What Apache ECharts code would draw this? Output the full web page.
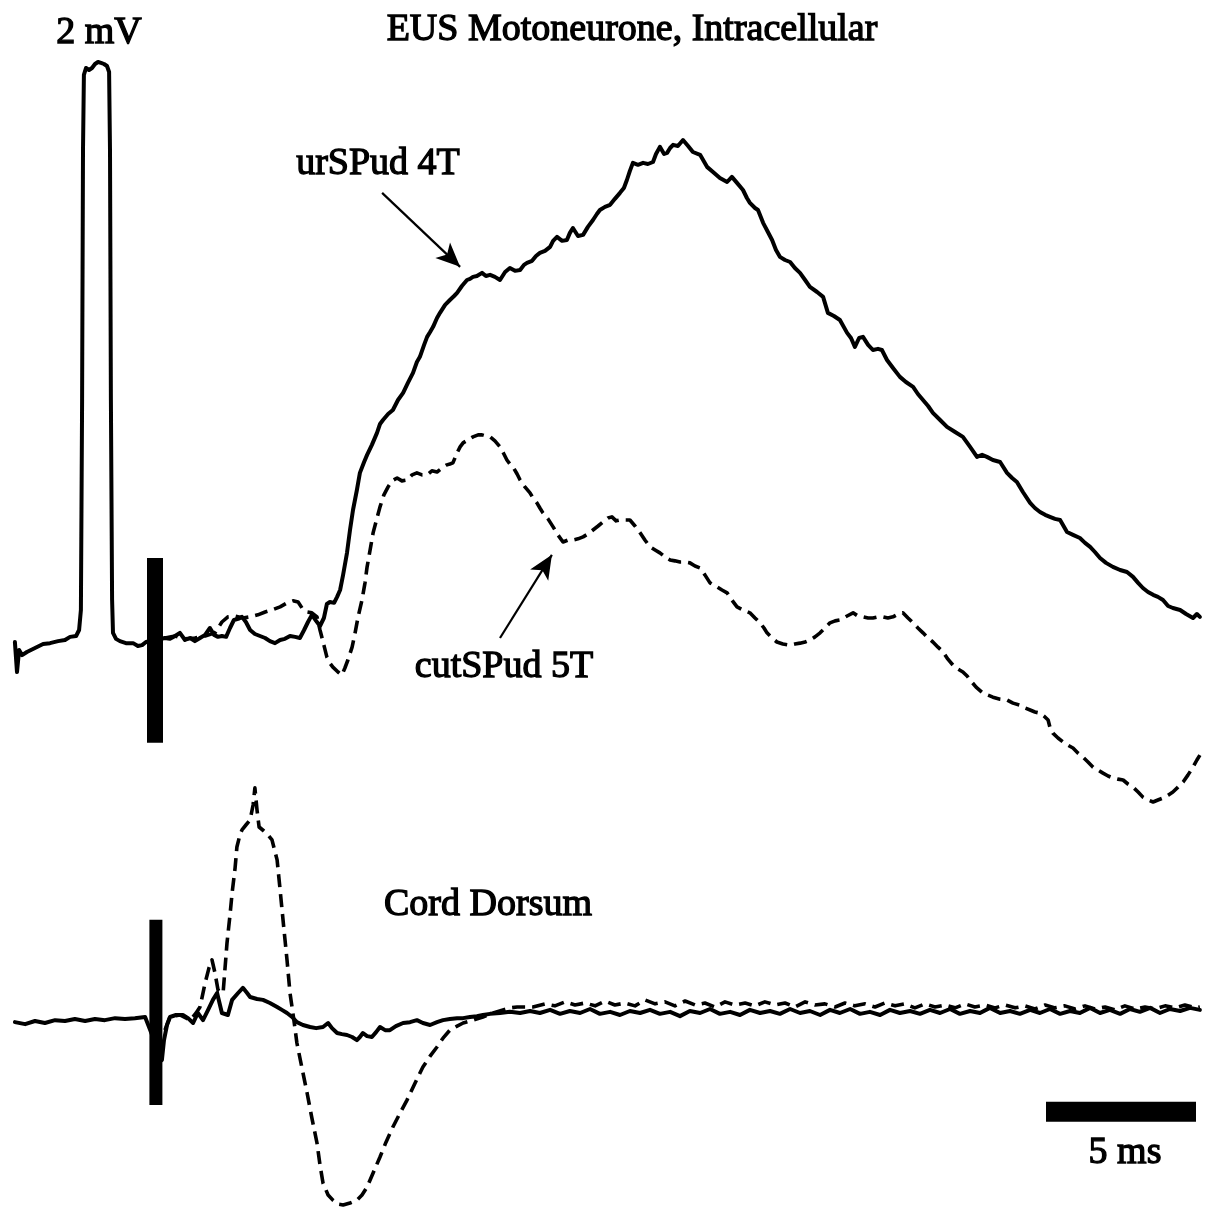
<!DOCTYPE html>
<html><head><meta charset="utf-8">
<script src="https://cdn.jsdelivr.net/npm/echarts@6/dist/echarts.min.js"></script>
<style>html,body{margin:0;padding:0;background:#fff}#c{width:1206px;height:1212px}</style>
</head><body><div id="c"></div>
<script>
// time in ms (0 = stimulus), potential in mV
const urSPudIntra = [[-4.67,-0.007],[-4.6,-0.112],[-4.53,-0.035],[-4.43,-0.053],[-4.27,-0.042],[-4.0,-0.028],[-3.73,-0.014],[-3.5,-0.011],[-3.23,-0.004],[-3.0,0],[-2.83,0.011],[-2.63,0.014],[-2.53,0.035],[-2.47,0.105],[-2.43,0.84],[-2.4,1.715],[-2.37,1.978],[-2.3,2.002],[-2.2,1.995],[-2.1,2.002],[-2.0,2.016],[-1.9,2.023],[-1.8,2.02],[-1.7,2.016],[-1.6,2.009],[-1.53,1.988],[-1.5,1.715],[-1.47,0.84],[-1.43,0.14],[-1.4,0.025],[-1.3,0.004],[-1.17,-0.004],[-0.97,-0.011],[-0.73,-0.011],[-0.57,-0.021],[-0.43,-0.018],[-0.3,-0.007],
[0.33,0.007],[0.5,0.004],[0.67,0.014],[0.83,0.025],[1.0,0],[1.17,0.007],[1.33,-0.004],[1.5,0.007],[1.67,0.018],[1.83,0.042],[1.97,0.018],[2.1,0.011],[2.23,0.014],[2.37,0.011],[2.5,0.042],[2.63,0.07],[2.77,0.074],[2.9,0.081],[3.03,0.063],[3.17,0.035],[3.33,0.021],[3.5,0.014],[3.67,0.007],[3.83,-0.004],[4.0,-0.011],[4.17,0],[4.33,0.004],[4.5,0.014],[4.67,0.011],[4.83,0.007],[4.97,0.035],[5.1,0.063],[5.23,0.088],[5.37,0.067],[5.5,0.049],[5.63,0.077],[5.73,0.126],[5.83,0.133],[5.97,0.13],[6.07,0.151],[6.17,0.175],[6.27,0.228],[6.4,0.305],[6.5,0.385],[6.6,0.455],[6.73,0.525],[6.83,0.585],[6.97,0.623],[7.07,0.648],[7.23,0.683],[7.4,0.725],[7.5,0.756],[7.6,0.77],[7.77,0.791],[7.93,0.805],[8.1,0.84],[8.27,0.865],[8.43,0.9],[8.6,0.935],[8.73,0.973],[8.83,0.991],[8.97,1.033],[9.07,1.061],[9.17,1.078],[9.27,1.096],[9.4,1.127],[9.5,1.145],[9.67,1.173],[9.83,1.19],[9.97,1.204],[10.07,1.215],[10.23,1.239],[10.4,1.26],[10.5,1.264],[10.6,1.271],[10.73,1.274],[10.9,1.285],[11.03,1.274],[11.17,1.278],[11.33,1.271],[11.5,1.26],[11.67,1.288],[11.83,1.302],[12.0,1.292],[12.17,1.295],[12.3,1.313],[12.4,1.32],[12.57,1.327],[12.7,1.344],[12.83,1.355],[13.0,1.362],[13.17,1.376],[13.27,1.397],[13.4,1.411],[13.57,1.397],[13.73,1.4],[13.83,1.425],[13.93,1.442],[14.1,1.414],[14.27,1.418],[14.43,1.446],[14.6,1.47],[14.73,1.491],[14.83,1.505],[15.0,1.516],[15.17,1.523],[15.33,1.544],[15.5,1.565],[15.63,1.582],[15.73,1.61],[15.83,1.642],[15.93,1.67],[16.1,1.663],[16.27,1.67],[16.43,1.666],[16.6,1.673],[16.7,1.701],[16.83,1.726],[16.97,1.701],[17.07,1.705],[17.17,1.722],[17.27,1.733],[17.43,1.729],[17.6,1.75],[17.77,1.729],[17.93,1.708],[18.17,1.698],[18.4,1.656],[18.6,1.638],[18.83,1.617],[19.07,1.603],[19.23,1.621],[19.4,1.6],[19.6,1.575],[19.73,1.547],[19.83,1.53],[20.0,1.512],[20.1,1.505],[20.27,1.46],[20.43,1.428],[20.57,1.4],[20.7,1.365],[20.83,1.341],[21.0,1.33],[21.17,1.323],[21.33,1.302],[21.5,1.285],[21.67,1.26],[21.83,1.236],[22.07,1.218],[22.27,1.201],[22.43,1.145],[22.63,1.134],[22.83,1.12],[23.07,1.075],[23.2,1.057],[23.33,1.026],[23.47,1.057],[23.6,1.061],[23.77,1.033],[23.93,1.015],[24.1,1.019],[24.23,1.015],[24.4,0.98],[24.6,0.952],[24.83,0.921],[25.03,0.903],[25.27,0.886],[25.43,0.861],[25.6,0.84],[25.77,0.819],[25.93,0.795],[26.17,0.77],[26.4,0.746],[26.67,0.728],[26.93,0.711],[27.17,0.676],[27.4,0.641],[27.57,0.648],[27.73,0.641],[27.93,0.63],[28.17,0.623],[28.4,0.585],[28.57,0.567],[28.73,0.553],[28.93,0.518],[29.17,0.48],[29.33,0.462],[29.5,0.448],[29.67,0.438],[29.83,0.431],[30.0,0.424],[30.17,0.42],[30.4,0.378],[30.6,0.368],[30.83,0.357],[31.0,0.34],[31.17,0.326],[31.33,0.308],[31.5,0.287],[31.7,0.27],[31.93,0.256],[32.17,0.245],[32.4,0.238],[32.6,0.221],[32.77,0.2],[32.93,0.182],[33.1,0.168],[33.27,0.158],[33.43,0.151],[33.6,0.14],[33.77,0.119],[33.93,0.112],[34.17,0.105],[34.37,0.091],[34.6,0.077],[34.73,0.091],[34.83,0.081]];

const cutSPudIntra = [[0.33,0.007],[0.67,0.014],[1.0,0.004],[1.33,0.007],[1.67,0.014],[2.0,0.025],[2.23,0.063],[2.43,0.081],[2.67,0.084],[2.93,0.077],[3.17,0.081],[3.43,0.088],[3.67,0.098],[3.9,0.105],[4.17,0.116],[4.4,0.13],[4.6,0.137],[4.77,0.133],[4.9,0.112],[5.07,0.098],[5.23,0.095],[5.4,0.081],[5.5,0.035],[5.63,-0.018],[5.73,-0.06],[5.83,-0.081],[5.93,-0.095],[6.1,-0.112],[6.23,-0.123],[6.33,-0.098],[6.43,-0.07],[6.57,-0.025],[6.67,0.025],[6.77,0.081],[6.9,0.14],[7.0,0.2],[7.07,0.256],[7.17,0.315],[7.27,0.375],[7.4,0.427],[7.5,0.466],[7.63,0.508],[7.77,0.536],[7.9,0.557],[8.07,0.567],[8.23,0.557],[8.4,0.56],[8.57,0.578],[8.73,0.585],[8.9,0.578],[9.07,0.578],[9.23,0.592],[9.4,0.588],[9.57,0.602],[9.73,0.613],[9.83,0.616],[9.93,0.62],[10.07,0.655],[10.17,0.676],[10.27,0.69],[10.43,0.7],[10.6,0.711],[10.77,0.718],[10.9,0.718],[11.03,0.714],[11.17,0.711],[11.33,0.697],[11.5,0.676],[11.63,0.651],[11.73,0.63],[11.83,0.616],[11.93,0.606],[12.07,0.581],[12.17,0.56],[12.33,0.536],[12.5,0.515],[12.6,0.497],[12.73,0.48],[12.83,0.462],[12.93,0.445],[13.1,0.424],[13.27,0.396],[13.43,0.368],[13.6,0.343],[13.77,0.35],[13.93,0.35],[14.1,0.354],[14.27,0.361],[14.43,0.371],[14.6,0.385],[14.77,0.399],[14.93,0.413],[15.1,0.427],[15.23,0.431],[15.37,0.417],[15.5,0.42],[15.67,0.42],[15.83,0.42],[16.0,0.399],[16.17,0.375],[16.33,0.35],[16.5,0.326],[16.67,0.315],[16.83,0.305],[17.0,0.291],[17.17,0.28],[17.33,0.277],[17.5,0.273],[17.67,0.273],[17.83,0.27],[18.0,0.259],[18.17,0.252],[18.33,0.228],[18.5,0.2],[18.73,0.186],[18.9,0.175],[19.07,0.165],[19.23,0.14],[19.4,0.116],[19.6,0.105],[19.83,0.095],[20.0,0.077],[20.17,0.06],[20.3,0.042],[20.4,0.025],[20.57,0.007],[20.73,-0.007],[20.93,-0.014],[21.17,-0.018],[21.33,-0.014],[21.5,-0.011],[21.67,-0.007],[21.83,0],[22.0,0.011],[22.17,0.025],[22.33,0.042],[22.5,0.06],[22.67,0.067],[22.83,0.07],[23.07,0.084],[23.27,0.095],[23.43,0.084],[23.6,0.081],[23.77,0.077],[23.93,0.077],[24.1,0.081],[24.27,0.081],[24.43,0.077],[24.6,0.081],[24.77,0.091],[24.93,0.095],[25.1,0.077],[25.27,0.06],[25.43,0.042],[25.6,0.025],[25.77,0.007],[25.93,-0.007],[26.1,-0.025],[26.27,-0.042],[26.43,-0.067],[26.6,-0.088],[26.77,-0.102],[26.93,-0.112],[27.07,-0.126],[27.17,-0.14],[27.37,-0.165],[27.6,-0.186],[27.77,-0.193],[27.93,-0.2],[28.17,-0.207],[28.4,-0.21],[28.6,-0.221],[28.83,-0.228],[29.0,-0.238],[29.17,-0.245],[29.33,-0.252],[29.5,-0.256],[29.63,-0.266],[29.77,-0.28],[29.83,-0.305],[29.93,-0.326],[30.1,-0.343],[30.27,-0.357],[30.43,-0.368],[30.6,-0.378],[30.77,-0.396],[30.93,-0.41],[31.1,-0.427],[31.27,-0.445],[31.43,-0.455],[31.6,-0.466],[31.77,-0.476],[31.93,-0.483],[32.1,-0.487],[32.27,-0.49],[32.43,-0.504],[32.6,-0.515],[32.77,-0.532],[32.93,-0.55],[33.1,-0.56],[33.27,-0.567],[33.43,-0.56],[33.6,-0.553],[33.77,-0.543],[33.93,-0.532],[34.1,-0.515],[34.27,-0.497],[34.43,-0.473],[34.6,-0.445],[34.73,-0.42],[34.83,-0.403]];

const urSPudCord = [[-4.67,-0.025],[-4.33,-0.032],[-4.0,-0.021],[-3.67,-0.028],[-3.33,-0.018],[-3.0,-0.021],[-2.67,-0.014],[-2.33,-0.021],[-2.0,-0.014],[-1.67,-0.018],[-1.33,-0.011],[-1.0,-0.014],[-0.67,-0.011],[-0.33,-0.007],[0.23,-0.158],[0.3,-0.088],[0.4,-0.035],[0.5,-0.007],[0.7,0],[0.93,0],[1.1,-0.011],[1.27,-0.028],[1.43,0.007],[1.6,-0.018],[1.77,0.018],[1.93,0.053],[2.07,0.077],[2.23,0.007],[2.43,0],[2.57,0.053],[2.77,0.077],[2.93,0.095],[3.07,0.077],[3.17,0.063],[3.4,0.056],[3.6,0.053],[3.83,0.042],[4.07,0.028],[4.23,0.018],[4.4,0.007],[4.57,-0.007],[4.73,-0.025],[4.93,-0.035],[5.17,-0.042],[5.37,-0.046],[5.6,-0.042],[5.77,-0.028],[5.9,-0.046],[6.07,-0.063],[6.23,-0.067],[6.4,-0.07],[6.57,-0.077],[6.73,-0.088],[6.83,-0.077],[6.93,-0.063],[7.07,-0.074],[7.23,-0.077],[7.37,-0.06],[7.5,-0.042],[7.67,-0.053],[7.83,-0.053],[8.03,-0.039],[8.27,-0.028],[8.5,-0.025],[8.73,-0.018],[8.93,-0.028],[9.17,-0.035],[9.4,-0.025],[9.6,-0.018],[9.83,-0.014],[10.07,-0.011],[10.27,-0.011],[10.5,-0.007],[10.73,-0.004],[10.93,0],[11.17,0.004],[11.5,0.007],[11.83,0.011],[12.17,0.007],[12.5,0.014],[12.83,0.007],[13.17,0.018],[13.5,0.004],[13.83,0.014],[14.17,0.007],[14.5,0.021],[14.83,0.004],[15.17,0.011],[15.5,0],[15.83,0.014],[16.17,0.007],[16.5,0.018],[16.83,0.004],[17.17,0.011],[17.5,-0.004],[17.83,0.014],[18.17,0.007],[18.5,0.021],[18.83,0.004],[19.17,0.011],[19.5,0],[19.83,0.018],[20.17,0.007],[20.5,0.014],[20.83,0.004],[21.17,0.021],[21.5,0.007],[21.83,0.014],[22.17,0],[22.5,0.018],[22.83,0.007],[23.17,0.021],[23.5,0.004],[23.83,0.011],[24.17,0],[24.5,0.018],[24.83,0.007],[25.17,0.014],[25.5,0.004],[25.83,0.018],[26.17,0.007],[26.5,0.021],[26.83,0.004],[27.17,0.014],[27.5,0.007],[27.83,0.025],[28.17,0.007],[28.5,0.014],[28.83,0.004],[29.17,0.018],[29.5,0.007],[29.83,0.021],[30.17,0.004],[30.5,0.014],[30.83,0.007],[31.17,0.025],[31.5,0.007],[31.83,0.018],[32.17,0.004],[32.5,0.021],[32.83,0.011],[33.17,0.025],[33.5,0.007],[33.83,0.021],[34.17,0.014],[34.5,0.025],[34.83,0.018]];

const cutSPudCord = [[0.33,-0.053],[0.5,-0.007],[0.83,0],[1.17,-0.018],[1.37,0.007],[1.5,0.028],[1.67,0.112],[1.8,0.165],[1.9,0.193],[2.0,0.147],[2.1,0.088],[2.27,0.077],[2.4,0.252],[2.5,0.35],[2.57,0.427],[2.67,0.515],[2.73,0.588],[2.83,0.63],[2.9,0.648],[3.03,0.665],[3.17,0.683],[3.27,0.735],[3.33,0.795],[3.4,0.718],[3.47,0.658],[3.63,0.644],[3.77,0.63],[3.9,0.613],[4.07,0.543],[4.17,0.438],[4.3,0.298],[4.4,0.193],[4.5,0.077],[4.63,-0.018],[4.73,-0.098],[4.9,-0.186],[5.07,-0.273],[5.23,-0.361],[5.4,-0.448],[5.5,-0.525],[5.6,-0.588],[5.77,-0.63],[5.93,-0.648],[6.1,-0.662],[6.27,-0.665],[6.5,-0.658],[6.73,-0.648],[6.9,-0.63],[7.07,-0.602],[7.27,-0.553],[7.5,-0.497],[7.7,-0.445],[7.93,-0.392],[8.17,-0.343],[8.4,-0.298],[8.67,-0.238],[8.93,-0.182],[9.17,-0.144],[9.4,-0.112],[9.6,-0.081],[9.83,-0.053],[10.07,-0.039],[10.27,-0.028],[10.6,-0.018],[10.93,-0.007],[11.27,0.007],[11.6,0.018],[11.83,0.025],[12.07,0.028],[12.33,0.028],[12.6,0.028],[13.0,0.039],[13.33,0.032],[13.67,0.046],[14.0,0.035],[14.33,0.042],[14.67,0.032],[15.0,0.049],[15.33,0.035],[15.67,0.042],[16.0,0.032],[16.33,0.053],[16.67,0.039],[17.0,0.046],[17.33,0.032],[17.67,0.049],[18.0,0.035],[18.33,0.042],[18.67,0.028],[19.0,0.046],[19.33,0.035],[19.67,0.042],[20.0,0.032],[20.33,0.046],[20.67,0.035],[21.0,0.042],[21.33,0.028],[21.67,0.046],[22.0,0.035],[22.33,0.039],[22.67,0.028],[23.0,0.042],[23.33,0.032],[23.67,0.039],[24.0,0.028],[24.33,0.042],[24.67,0.032],[25.0,0.039],[25.33,0.025],[25.67,0.039],[26.0,0.028],[26.33,0.035],[26.67,0.025],[27.0,0.039],[27.33,0.028],[27.67,0.035],[28.0,0.025],[28.33,0.035],[28.67,0.025],[29.0,0.032],[29.33,0.021],[29.67,0.035],[30.0,0.025],[30.33,0.032],[30.67,0.021],[31.0,0.032],[31.33,0.021],[31.67,0.028],[32.0,0.018],[32.33,0.032],[32.67,0.021],[33.0,0.028],[33.33,0.021],[33.67,0.032],[34.0,0.025],[34.33,0.035],[34.67,0.025],[34.83,0.028]];

const stimArtifactIntra = [[0, 0.287], [0, -0.36]];
const stimArtifactCord = [[0.03, 0.333], [0.03, -0.315]];
const scaleBarTime = [[29.7, -0.339], [34.7, -0.339]];
const arrowUr = [[7.57, 1.565], [10.17, 1.306]];
const arrowCut = [[11.5, 0.007], [13.23, 0.298]];
const labels = ['2 mV', 'EUS Motoneurone, Intracellular', 'urSPud 4T', 'cutSPud 5T', 'Cord Dorsum', '5 ms'];

const chart = echarts.init(document.getElementById('c'), null, {renderer: 'canvas'});
const FONT = '"Liberation Serif","Times New Roman",serif';
function txt(text, x, y) {
  return {type: 'text', x: x, y: y, silent: true, style: {text: text, fill: '#000', stroke: '#000', lineWidth: 1.3,
    font: '38px ' + FONT, align: 'center', verticalAlign: 'middle', textAlign: 'center', textVerticalAlign: 'middle'}};
}
const solid = {color: '#000', width: 4, join: 'round', cap: 'round'};
const dashed = {color: '#000', width: 3.6, type: [13, 7], join: 'round', cap: 'butt'};
function arrowLine(pts) {
  return [{coord: pts[0]}, {coord: pts[1]}];
}
chart.setOption({
  animation: false,
  backgroundColor: '#fff',
  grid: {left: 0, right: 0, top: 0, bottom: 0},
  xAxis: {type: 'value', min: -155 / 30, max: 1051 / 30, show: false},
  yAxis: [
    {type: 'value', min: -2.002, max: 2.24, show: false},
    {type: 'value', min: -0.6895, max: 3.5525, show: false}
  ],
  graphic: [
    txt(labels[0], 99, 33),
    txt(labels[1], 632, 30),
    txt(labels[2], 378, 164),
    txt(labels[3], 504, 667),
    txt(labels[4], 488, 905),
    txt(labels[5], 1125, 1153)
  ],
  series: [
    {type: 'line', data: urSPudIntra, yAxisIndex: 0, showSymbol: false, silent: true, lineStyle: solid,
      markLine: {silent: true, symbol: ['none', 'arrow'], symbolSize: [16, 24], label: {show: false},
        lineStyle: {color: '#000', width: 2.2, type: 'solid'}, emphasis: {disabled: true},
        data: [arrowLine(arrowUr), arrowLine(arrowCut)]}},
    {type: 'line', data: cutSPudIntra, yAxisIndex: 0, showSymbol: false, silent: true, lineStyle: dashed},
    {type: 'line', data: urSPudCord, yAxisIndex: 1, showSymbol: false, silent: true, lineStyle: solid},
    {type: 'line', data: cutSPudCord, yAxisIndex: 1, showSymbol: false, silent: true, lineStyle: dashed},
    {type: 'line', data: stimArtifactIntra, yAxisIndex: 0, showSymbol: false, silent: true, lineStyle: {color: '#000', width: 16, cap: 'butt'}},
    {type: 'line', data: stimArtifactCord, yAxisIndex: 1, showSymbol: false, silent: true, lineStyle: {color: '#000', width: 13, cap: 'butt'}},
    {type: 'line', data: scaleBarTime, yAxisIndex: 1, showSymbol: false, silent: true, lineStyle: {color: '#000', width: 20, cap: 'butt'}}
  ]
});
</script></body></html>
